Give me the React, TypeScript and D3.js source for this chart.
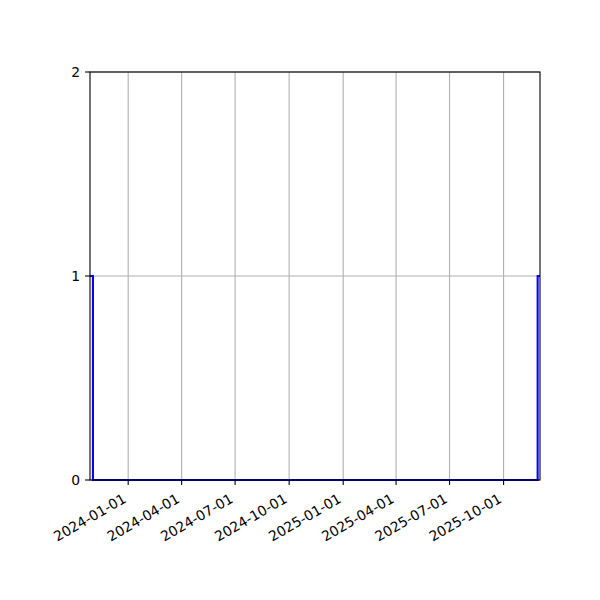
import React, { useEffect, useRef } from 'react';
import * as d3 from 'd3';

// step series (steps-post): value holds until the next date
const stepDates = ['2023-10-28', '2023-11-02', '2025-11-28', '2025-12-02'];
const stepValues = [1, 0, 1, 1];

const xDomain = ['2023-10-28', '2025-12-02'];
const xTicks = [
  '2024-01-01', '2024-04-01', '2024-07-01', '2024-10-01',
  '2025-01-01', '2025-04-01', '2025-07-01', '2025-10-01'
];
const yTicks = [0, 1, 2];

const parse = d3.utcParse('%Y-%m-%d');

export default function App() {
  const svgRef = useRef<SVGSVGElement>(null);
  const width = 600;
  const height = 600;

  useEffect(() => {
    if (!svgRef.current) return;
    const svg = d3.select(svgRef.current);
    svg.selectAll('*').remove();

    const margin = { top: 72, right: 60, bottom: 120, left: 90 };
    const innerWidth = width - margin.left - margin.right;
    const innerHeight = height - margin.top - margin.bottom;
    const font = "'DejaVu Sans', sans-serif";
    const fontSize = '13.9px';

    svg.append('rect').attr('width', width).attr('height', height).attr('fill', '#ffffff');

    const x = d3.scaleUtc()
      .domain(xDomain.map(d => parse(d) as Date))
      .range([0, innerWidth]);
    const y = d3.scaleLinear().domain([0, 2]).range([innerHeight, 0]);

    const g = svg.append('g').attr('transform', `translate(${margin.left},${margin.top})`);

    // Grid
    g.selectAll('.vgrid')
      .data(xTicks)
      .enter().append('line')
      .attr('x1', d => x(parse(d) as Date))
      .attr('x2', d => x(parse(d) as Date))
      .attr('y1', 0)
      .attr('y2', innerHeight)
      .attr('stroke', '#b0b0b0')
      .attr('stroke-width', 1.1);

    g.selectAll('.hgrid')
      .data(yTicks)
      .enter().append('line')
      .attr('x1', 0)
      .attr('x2', innerWidth)
      .attr('y1', d => y(d))
      .attr('y2', d => y(d))
      .attr('stroke', '#b0b0b0')
      .attr('stroke-width', 1.1);

    // Step line
    const data = stepDates.map((d, i) => ({ date: parse(d) as Date, value: stepValues[i] }));
    const line = d3.line<typeof data[0]>()
      .x(d => x(d.date))
      .y(d => y(d.value))
      .curve(d3.curveStepAfter);

    g.append('path')
      .datum(data)
      .attr('fill', 'none')
      .attr('stroke', '#0000ff')
      .attr('stroke-width', 2.1)
      .attr('d', line);

    // Spines
    g.append('rect')
      .attr('width', innerWidth)
      .attr('height', innerHeight)
      .attr('fill', 'none')
      .attr('stroke', '#000000')
      .attr('stroke-width', 1.1);

    // X ticks
    const xt = g.selectAll('.xtick')
      .data(xTicks)
      .enter().append('g')
      .attr('transform', d => `translate(${x(parse(d) as Date)},${innerHeight})`);
    xt.append('line').attr('y2', 4.9).attr('stroke', '#000').attr('stroke-width', 1.1);
    xt.append('text')
      .attr('transform', 'translate(-1,21.5) rotate(-30)')
      .attr('text-anchor', 'end')
      .attr('font-family', font)
      .attr('font-size', fontSize)
      .attr('fill', '#000')
      .text(d => d);

    // Y ticks
    const yt = g.selectAll('.ytick')
      .data(yTicks)
      .enter().append('g')
      .attr('transform', d => `translate(0,${y(d)})`);
    yt.append('line').attr('x2', -4.9).attr('stroke', '#000').attr('stroke-width', 1.1);
    yt.append('text')
      .attr('x', -9.8)
      .attr('dy', '0.35em')
      .attr('text-anchor', 'end')
      .attr('font-family', font)
      .attr('font-size', fontSize)
      .attr('fill', '#000')
      .text(d => d);
  }, []);

  return (
    <svg
      ref={svgRef}
      width={width}
      height={height}
      viewBox={`0 0 ${width} ${height}`}
      style={{ position: 'absolute', left: 0, top: 0, display: 'block' }}
    />
  );
}
